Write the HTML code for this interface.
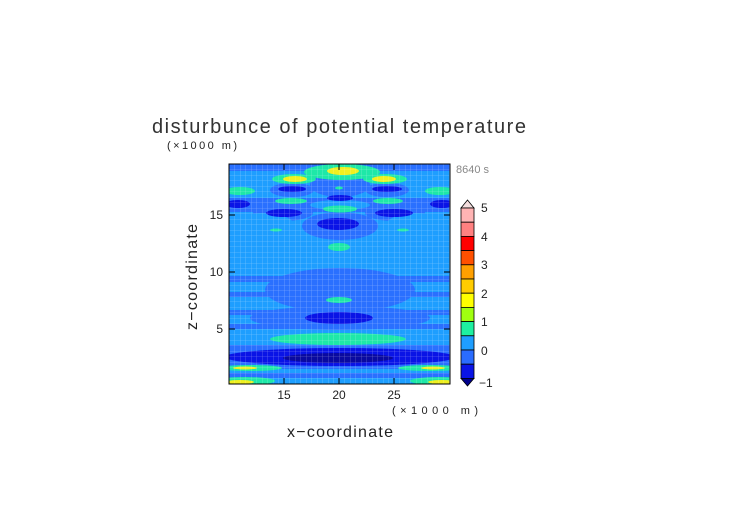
<!DOCTYPE html>
<html><head><style>body{margin:0;background:#fff}svg{display:block}</style></head><body>
<svg width="752" height="532" xmlns="http://www.w3.org/2000/svg" font-family="Liberation Sans, sans-serif">
<defs>
<clipPath id="c"><rect x="229" y="164" width="221" height="220"/></clipPath>
<pattern id="g" width="5.5" height="5.5" patternUnits="userSpaceOnUse" x="229" y="164"><path d="M0 0V5.5M0 0H5.5" stroke="#fff" stroke-width="0.6" opacity="0.45"/></pattern>
</defs>
<text x="152" y="133" font-size="20" textLength="374" fill="#333">disturbunce of potential temperature</text>
<text x="167" y="149" font-size="11" textLength="70" fill="#222">(×1000 m)</text>
<text x="456" y="173" font-size="11" fill="#888">8640 s</text>
<g clip-path="url(#c)">
<rect x="229" y="164" width="221" height="220" fill="#1e9eff"/>
<g fill="#2a70ff">
<rect x="229" y="164" width="221" height="7"/>
<ellipse cx="340" cy="185" rx="30" ry="12"/>
<ellipse cx="292" cy="190" rx="22" ry="7"/>
<ellipse cx="387" cy="190" rx="22" ry="7"/>
<ellipse cx="283" cy="213" rx="30" ry="8"/>
<ellipse cx="395" cy="213" rx="30" ry="8"/>
<ellipse cx="340" cy="226" rx="38" ry="14"/>
<rect x="229" y="198" width="221" height="14"/>
<ellipse cx="340" cy="290" rx="75" ry="22"/>
<rect x="229" y="276" width="221" height="6"/>
<rect x="229" y="292" width="221" height="5"/>
<ellipse cx="340" cy="318" rx="90" ry="12"/>
<rect x="229" y="310" width="221" height="5"/>
<rect x="229" y="324" width="221" height="5"/>
<rect x="229" y="345" width="221" height="24"/>
<rect x="229" y="373" width="221" height="5"/>
</g>
<g fill="#1e9eff">
<ellipse cx="262" cy="225" rx="32" ry="12"/>
<ellipse cx="418" cy="225" rx="32" ry="12"/>
<ellipse cx="340" cy="205" rx="30" ry="5"/>
</g>
<g fill="#0a14e6">
<ellipse cx="292" cy="189" rx="14" ry="3"/>
<ellipse cx="387" cy="189" rx="15" ry="3"/>
<ellipse cx="340" cy="198" rx="13" ry="3"/>
<ellipse cx="238" cy="204" rx="12" ry="4"/>
<ellipse cx="442" cy="204" rx="12" ry="4"/>
<ellipse cx="284" cy="213" rx="18" ry="4"/>
<ellipse cx="394" cy="213" rx="19" ry="4"/>
<ellipse cx="338" cy="224" rx="21" ry="6"/>
<ellipse cx="339" cy="318" rx="34" ry="6"/>
<ellipse cx="340" cy="357" rx="115" ry="9"/>
</g>
<ellipse cx="338" cy="358" rx="55" ry="5" fill="#0a0aa0"/>
<g fill="#1ee8a8">
<ellipse cx="342" cy="172" rx="38" ry="8"/>
<ellipse cx="294" cy="179" rx="22" ry="5"/>
<ellipse cx="385" cy="179" rx="22" ry="5"/>
<ellipse cx="240" cy="191" rx="15" ry="4"/>
<ellipse cx="440" cy="191" rx="15" ry="4"/>
<ellipse cx="339" cy="188" rx="4" ry="1.5"/>
<ellipse cx="291" cy="201" rx="16" ry="3"/>
<ellipse cx="388" cy="201" rx="15" ry="3"/>
<ellipse cx="340" cy="209" rx="17" ry="3.5"/>
<ellipse cx="276" cy="230" rx="6" ry="1.5"/>
<ellipse cx="403" cy="230" rx="6" ry="1.5"/>
<ellipse cx="339" cy="247" rx="11" ry="4"/>
<ellipse cx="339" cy="300" rx="13" ry="3"/>
<ellipse cx="338" cy="339" rx="68" ry="6"/>
<ellipse cx="250" cy="368" rx="32" ry="3"/>
<ellipse cx="430" cy="368" rx="32" ry="3"/>
<ellipse cx="245" cy="381" rx="30" ry="4"/>
<ellipse cx="440" cy="381" rx="30" ry="4"/>
</g>
<g fill="#f0f020">
<ellipse cx="343" cy="171" rx="16" ry="4"/>
<ellipse cx="295" cy="179" rx="12" ry="3"/>
<ellipse cx="384" cy="179" rx="12" ry="3"/>
<ellipse cx="245" cy="368" rx="12" ry="1.5"/>
<ellipse cx="433" cy="368" rx="12" ry="1.5"/>
<ellipse cx="240" cy="382" rx="14" ry="2"/>
<ellipse cx="442" cy="382" rx="14" ry="2"/>
</g>
<rect x="229" y="164" width="221" height="220" fill="url(#g)"/>
</g>
<rect x="229" y="164" width="221" height="220" fill="none" stroke="#000" stroke-width="1"/>
<g stroke="#000" stroke-width="1">
<path d="M284 384v-6M339 384v-6M394 384v-6M284 164v6M339 164v6M394 164v6M229 329h6M229 272h6M229 215h6M450 329h-6M450 272h-6M450 215h-6"/>
</g>
<g font-size="12" fill="#222" text-anchor="middle">
<text x="284" y="399">15</text><text x="339" y="399">20</text><text x="394" y="399">25</text>
</g>
<g font-size="12" fill="#222" text-anchor="end">
<text x="223" y="333">5</text><text x="223" y="276">10</text><text x="223" y="219">15</text>
</g>
<text x="392" y="414" font-size="11" textLength="86" fill="#222">(×1000 m)</text>
<text x="287" y="437" font-size="16" textLength="106" fill="#222">x−coordinate</text>
<text transform="translate(197,330) rotate(-90)" font-size="16" textLength="106" fill="#222">z−coordinate</text>
<g stroke="#000" stroke-width="0.8">
<polygon points="461,208 474,208 467.5,200" fill="#f4dede"/>
<rect x="461" y="208" width="13" height="14.2" fill="#ffb4b4"/>
<rect x="461" y="222.2" width="13" height="14.2" fill="#ff8080"/>
<rect x="461" y="236.4" width="13" height="14.2" fill="#ff0000"/>
<rect x="461" y="250.6" width="13" height="14.2" fill="#ff5000"/>
<rect x="461" y="264.8" width="13" height="14.2" fill="#ffa000"/>
<rect x="461" y="279" width="13" height="14.2" fill="#ffcc00"/>
<rect x="461" y="293.2" width="13" height="14.2" fill="#ffff00"/>
<rect x="461" y="307.4" width="13" height="14.2" fill="#a0ff10"/>
<rect x="461" y="321.6" width="13" height="14.2" fill="#1ef0a0"/>
<rect x="461" y="335.8" width="13" height="14.2" fill="#1e9eff"/>
<rect x="461" y="350" width="13" height="14.2" fill="#2a6cff"/>
<rect x="461" y="364.2" width="13" height="14.2" fill="#0a14e6"/>
<polygon points="461,378.4 474,378.4 467.5,386" fill="#00008c"/>
</g>
<g font-size="12" fill="#222">
<text x="481" y="212">5</text><text x="481" y="241">4</text><text x="481" y="269">3</text><text x="481" y="298">2</text><text x="481" y="326">1</text><text x="481" y="355">0</text><text x="479" y="387">−1</text>
</g>
</svg>
</body></html>
